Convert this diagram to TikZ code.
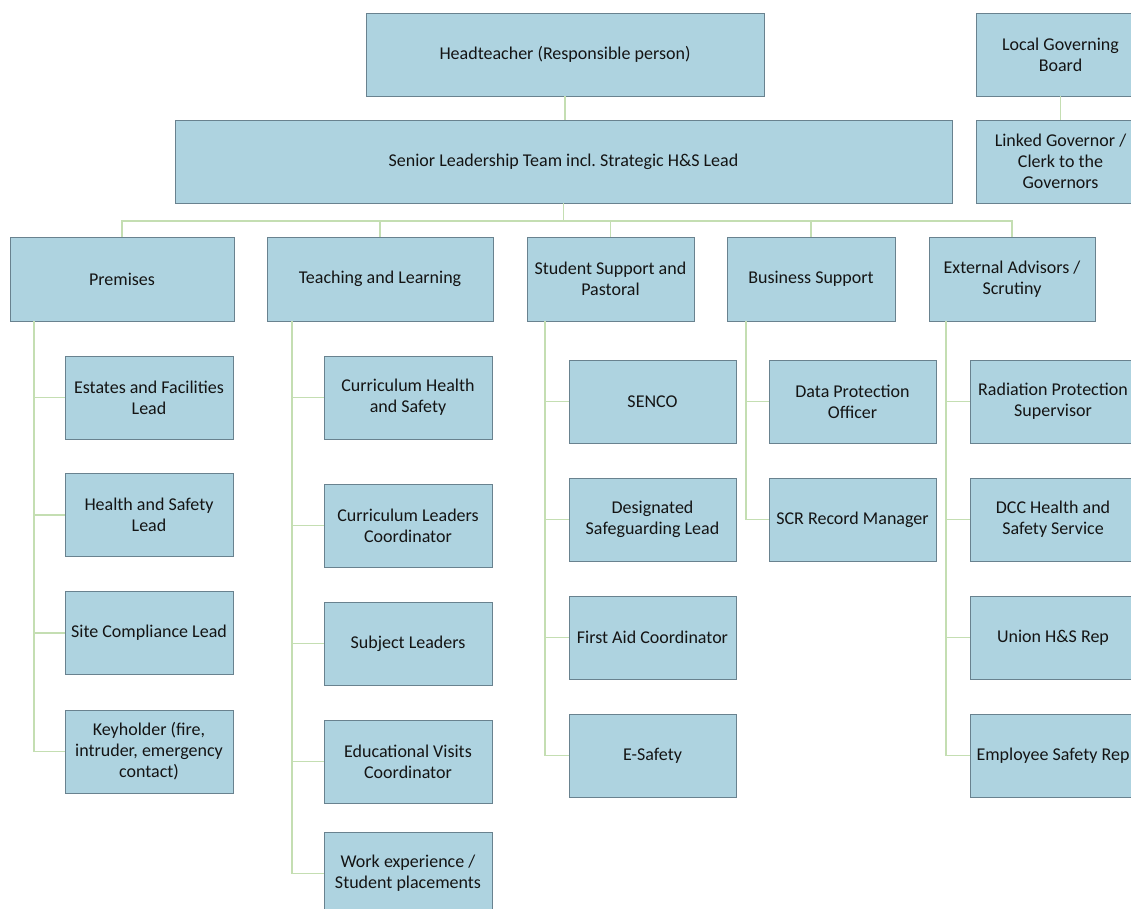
\documentclass[tikz,border=0pt]{standalone}
\usepackage{fontspec}
\setmainfont{Carlito}
\frenchspacing
\definecolor{boxfill}{RGB}{174,211,224}
\definecolor{boxline}{RGB}{105,130,143}
\definecolor{linkcol}{RGB}{196,222,178}
\definecolor{txtcol}{RGB}{20,20,20}
\tikzset{
  orgbox/.style={draw=boxline, line width=0.9pt, fill=boxfill, rectangle, align=center,
    inner sep=2pt, text=txtcol, font=\fontsize{18}{21}\selectfont,
    minimum height=83pt},
  topw/.style={minimum width=#1pt},
  link/.style={draw=linkcol, line width=1.9pt}
}
\begin{document}
\begin{tikzpicture}[x=1pt,y=-1pt]
\useasboundingbox (0,0) rectangle (1131,908);
\clip (0,0) rectangle (1131,908);
% top level
\node[orgbox, topw=398] (ht) at (565,54.5) {Headteacher (Responsible person)};
\node[orgbox, topw=169] (lgb) at (1060.5,54.5) {Local Governing\\Board};
\node[orgbox, topw=169] (lg) at (1060.5,161.5) {Linked Governor /\\Clerk to the\\Governors};
\node[orgbox, topw=777] (slt) at (563.5,161.5) {Senior Leadership Team incl.\ Strategic H\&S Lead};
% level 2
\node[orgbox, topw=224, minimum height=84pt] (prem) at (122,279) {Premises};
\node[orgbox, topw=226, minimum height=84pt] (teach) at (380,279) {Teaching and Learning};
\node[orgbox, topw=167, minimum height=84pt] (stud) at (610.5,279) {Student Support and\\Pastoral};
\node[orgbox, topw=168, minimum height=84pt] (bus) at (811,279) {Business Support};
\node[orgbox, topw=166, minimum height=84pt] (ext) at (1012,279) {External Advisors /\\Scrutiny};
% premises children
\node[orgbox, topw=168] (p1) at (149,397.5) {Estates and Facilities\\Lead};
\node[orgbox, topw=168] (p2) at (149,515) {Health and Safety\\Lead};
\node[orgbox, topw=168] (p3) at (149,633) {Site Compliance Lead};
\node[orgbox, topw=168] (p4) at (149,751.5) {Keyholder (fire,\\intruder, emergency\\contact)};
% teaching children
\node[orgbox, topw=168] (t1) at (408,397.5) {Curriculum Health\\and Safety};
\node[orgbox, topw=168] (t2) at (408,525.5) {Curriculum Leaders\\Coordinator};
\node[orgbox, topw=168] (t3) at (408,643.5) {Subject Leaders};
\node[orgbox, topw=168] (t4) at (408,761.5) {Educational Visits\\Coordinator};
\node[orgbox, topw=168] (t5) at (408,873.5) {Work experience /\\Student placements};
% student children
\node[orgbox, topw=167] (s1) at (652.5,401.5) {SENCO};
\node[orgbox, topw=167] (s2) at (652.5,519.5) {Designated\\Safeguarding Lead};
\node[orgbox, topw=167] (s3) at (652.5,637.5) {First Aid Coordinator};
\node[orgbox, topw=167] (s4) at (652.5,755.5) {E-Safety};
% business children
\node[orgbox, topw=167] (b1) at (852.5,401.5) {Data Protection\\Officer};
\node[orgbox, topw=167] (b2) at (852.5,519.5) {SCR Record Manager};
% external children
\node[orgbox, topw=166] (e1) at (1053,401.5) {Radiation Protection\\Supervisor};
\node[orgbox, topw=166] (e2) at (1053,519.5) {DCC Health and\\Safety Service};
\node[orgbox, topw=166] (e3) at (1053,637.5) {Union H\&S Rep};
\node[orgbox, topw=166] (e4) at (1053,755.5) {Employee Safety Rep};
% connectors
\draw[link] (ht.south) -- (ht.south |- slt.north);
\draw[link] (lgb.south) -- (lg.north);
\foreach \n in {prem,teach,stud,bus,ext}{
  \draw[link] (slt.south) |- ([yshift=16pt]\n.north) -- (\n.north);
}
\foreach \c in {p1,p2,p3,p4}{ \draw[link] ([xshift=24pt]prem.south west) |- (\c.west); }
\foreach \c in {t1,t2,t3,t4,t5}{ \draw[link] ([xshift=25pt]teach.south west) |- (\c.west); }
\foreach \c in {s1,s2,s3,s4}{ \draw[link] ([xshift=18pt]stud.south west) |- (\c.west); }
\foreach \c in {b1,b2}{ \draw[link] ([xshift=19pt]bus.south west) |- (\c.west); }
\foreach \c in {e1,e2,e3,e4}{ \draw[link] ([xshift=17pt]ext.south west) |- (\c.west); }
\end{tikzpicture}
\end{document}
